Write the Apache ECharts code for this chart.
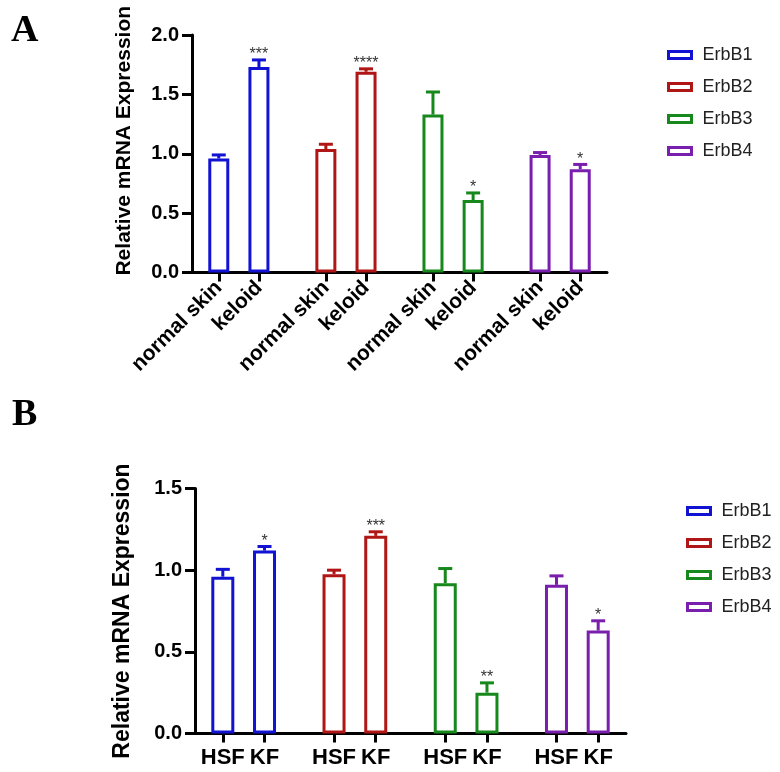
<!DOCTYPE html>
<html><head><meta charset="utf-8">
<script src="https://cdn.jsdelivr.net/npm/echarts@6/dist/echarts.min.js"></script>
<style>html,body{margin:0;padding:0;background:#fff}#c{width:780px;height:772px}</style>
</head><body><div id="c"></div>
<script>
// ---- data ----
const genes = ['ErbB1', 'ErbB2', 'ErbB3', 'ErbB4'];
const groupsA = ['normal skin', 'keloid'];
const meanA_normal = [0.96, 1.04, 1.33, 0.99];
const errA_normal  = [0.03, 0.04, 0.19, 0.02];
const meanA_keloid = [1.73, 1.69, 0.61, 0.87];
const errA_keloid  = [0.06, 0.025, 0.06, 0.04];
const sigA = ['***', '****', '*', '*'];
const groupsB = ['HSF', 'KF'];
const meanB_HSF = [0.96, 0.975, 0.92, 0.91];
const errB_HSF  = [0.045, 0.025, 0.09, 0.055];
const meanB_KF  = [1.12, 1.21, 0.25, 0.63];
const errB_KF   = [0.025, 0.025, 0.06, 0.06];
const sigB = ['*', '***', '**', '*'];
const yMaxA = 2.0, yMaxB = 1.5, yStep = 0.5;

// ---- style ----
const colors = ['#1212d2', '#b01616', '#16881c', '#7a1eae'];
const FONT = '"Liberation Sans", Arial, sans-serif';
const SLOTS = 32;
const slotOf = (g, i) => 2 + 8 * g + 3 * i;

function buildPanel(groups, means, errs, sigs, axisIdx, barW) {
  const labels = new Array(SLOTS).fill('');
  const cats = [];
  for (let k = 0; k < SLOTS; k++) cats.push('s' + k);
  groups.forEach((name, i) => genes.forEach((_, g) => { labels[slotOf(g, i)] = name; }));
  const series = [];
  genes.forEach((gene, g) => {
    const d = new Array(SLOTS).fill('-');
    means.forEach((arr, i) => { d[slotOf(g, i)] = arr[g]; });
    series.push({
      type: 'bar', name: gene, xAxisIndex: axisIdx, yAxisIndex: axisIdx,
      data: d, barWidth: barW, barGap: '-100%',
      itemStyle: { color: '#ffffff', borderColor: colors[g], borderWidth: 3 },
      emphasis: { disabled: true }, silent: true, z: 2
    });
  });
  const errData = [], meta = [];
  genes.forEach((gene, g) => {
    means.forEach((arr, i) => {
      errData.push([slotOf(g, i), arr[g], errs[i][g]]);
      meta.push({ color: colors[g], sig: i === 1 ? sigs[g] : '' });
    });
  });
  series.push({
    type: 'custom', xAxisIndex: axisIdx, yAxisIndex: axisIdx, silent: true, z: 3,
    data: errData,
    encode: { x: 0, y: 1 },
    renderItem: (params, api) => {
      const x = api.value(0), m = api.value(1), e = api.value(2);
      const p0 = api.coord([x, m]);
      const p1 = api.coord([x, m + e]);
      const mt = meta[params.dataIndex];
      const children = [
        { type: 'line', shape: { x1: p0[0], y1: p0[1], x2: p0[0], y2: p1[1] },
          style: { stroke: mt.color, lineWidth: 3 } },
        { type: 'line', shape: { x1: p0[0] - 7, y1: p1[1], x2: p0[0] + 7, y2: p1[1] },
          style: { stroke: mt.color, lineWidth: 3 } }
      ];
      if (mt.sig) children.push({
        type: 'text', x: p0[0], y: p1[1] + 3,
        style: { text: mt.sig, fill: '#333', font: '16px ' + FONT, align: 'center', verticalAlign: 'bottom' }
      });
      return { type: 'group', children };
    }
  });
  return { labels, cats, series };
}

const A = buildPanel(groupsA, [meanA_normal, meanA_keloid], [errA_normal, errA_keloid], sigA, 0, 21);
const B = buildPanel(groupsB, [meanB_HSF, meanB_KF], [errB_HSF, errB_KF], sigB, 1, 23);

function xAxisCfg(p, gridIdx, rotate, fs, margin) {
  return {
    type: 'category', gridIndex: gridIdx, data: p.cats, boundaryGap: false,
    axisLine: { lineStyle: { color: '#000', width: 3 } },
    axisTick: { show: true, length: 9, lineStyle: { color: '#000', width: 3 },
      interval: (idx) => p.labels[idx] !== '' },
    axisLabel: { interval: (idx) => p.labels[idx] !== '', formatter: (v, idx) => p.labels[idx],
      rotate: rotate, fontSize: fs, fontWeight: 'bold', color: '#000', fontFamily: FONT, margin: margin },
    splitLine: { show: false }
  };
}
function yAxisCfg(gridIdx, max, nameSize, nameGap, pad) {
  return {
    type: 'value', gridIndex: gridIdx, min: 0, max: max, interval: yStep,
    name: 'Relative mRNA Expression', nameLocation: 'middle', nameGap: nameGap,
    nameTextStyle: { fontSize: nameSize, fontWeight: 'bold', color: '#000', fontFamily: FONT, padding: pad },
    axisLine: { show: true, lineStyle: { color: '#000', width: 3 } },
    axisTick: { show: true, length: 10, lineStyle: { color: '#000', width: 3 } },
    axisLabel: { formatter: (v) => v.toFixed(1), fontSize: 20, fontWeight: 'bold', color: '#000', fontFamily: FONT, margin: 13 },
    splitLine: { show: false }
  };
}
function legendCfg(left, top) {
  return {
    orient: 'vertical', left: left, top: top, itemWidth: 23, itemHeight: 7, itemGap: 12,
    selectedMode: false, icon: 'rect',
    textStyle: { fontSize: 18, color: '#222', fontFamily: FONT, lineHeight: 20, padding: [0, 0, 0, 6] },
    data: genes.map((n, g) => ({ name: n, itemStyle: { color: '#fff', borderColor: colors[g], borderWidth: 3 } }))
  };
}

const chart = echarts.init(document.getElementById('c'), null, { renderer: 'canvas' });
chart.setOption({
  animation: false,
  backgroundColor: '#fff',
  grid: [
    { left: 192, right: 173, top: 35, bottom: 499.5 },
    { left: 195, right: 154, top: 488.5, bottom: 38.5 }
  ],
  xAxis: [xAxisCfg(A, 0, 45, 21, 12), xAxisCfg(B, 1, 0, 22, 13)],
  yAxis: [yAxisCfg(0, yMaxA, 21, 57, [0, 0, 0, 26]), yAxisCfg(1, yMaxB, 23, 61, 0)],
  legend: [legendCfg(662, 40), legendCfg(681, 496)],
  graphic: [
    { type: 'text', left: 11, top: 12, style: { text: 'A', font: 'bold 38px "Liberation Serif", "Times New Roman", serif', fill: '#000' } },
    { type: 'text', left: 12, top: 396, style: { text: 'B', font: 'bold 38px "Liberation Serif", "Times New Roman", serif', fill: '#000' } }
  ],
  series: [...A.series, ...B.series]
});
</script>
</body></html>
